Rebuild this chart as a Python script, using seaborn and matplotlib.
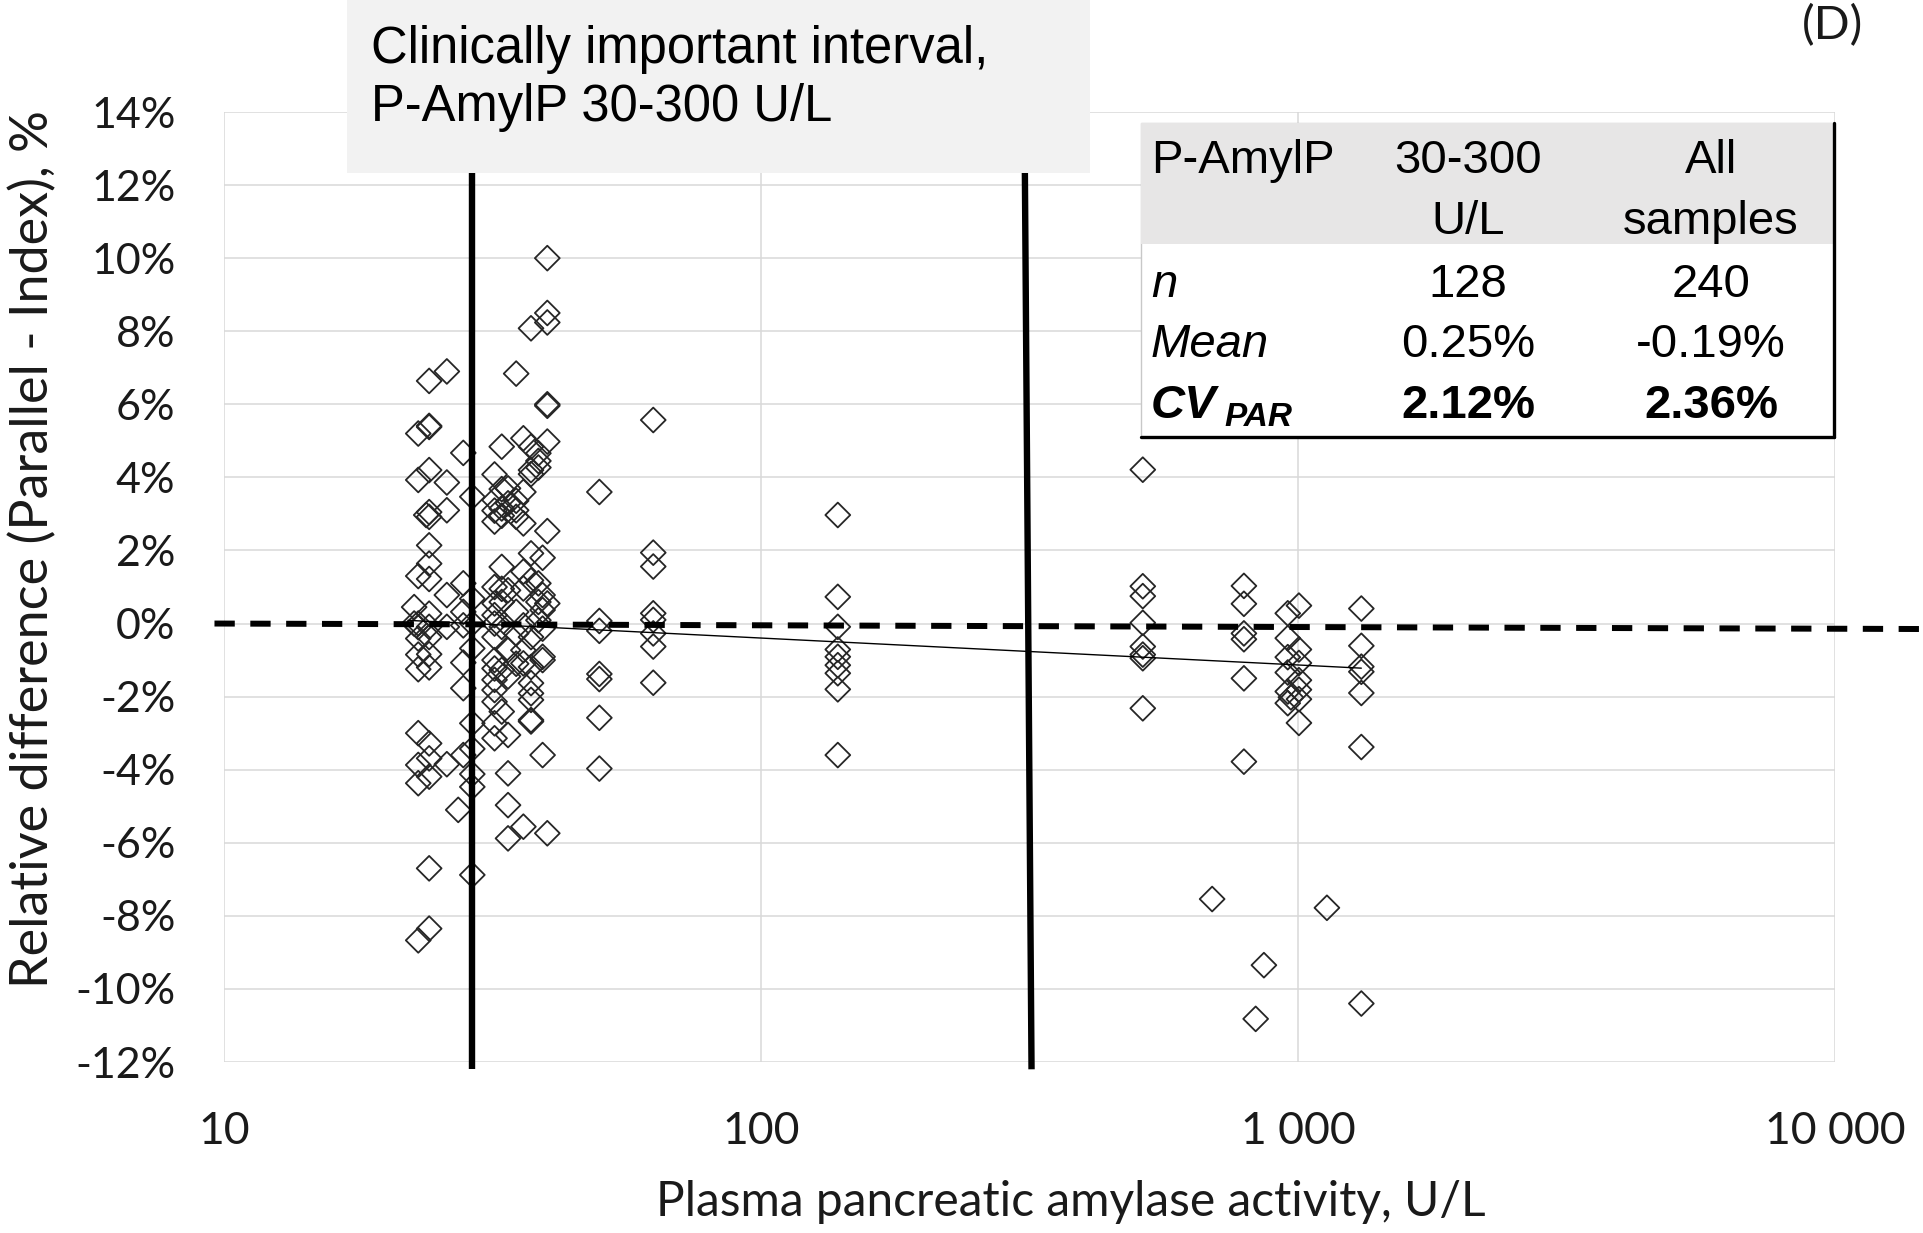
import numpy as np
import pandas as pd
import matplotlib
matplotlib.use("Agg")
import matplotlib.pyplot as plt
from matplotlib.patches import Rectangle
from matplotlib.lines import Line2D
from matplotlib.ticker import NullLocator
import seaborn as sns

# Plasma pancreatic amylase activity (U/L) of each sample
amylase_ul = [
    22.6, 22.6,
    23.0, 23.0, 23.0, 23.0, 23.0, 23.0, 23.0, 23.0, 23.0, 23.0, 23.0, 23.0,
    23.8,
    24.1, 24.1, 24.1, 24.1, 24.1, 24.1, 24.1, 24.1, 24.1, 24.1, 24.1, 24.1,
    24.1, 24.1, 24.1, 24.1, 24.1, 24.1, 24.1,
    26.0, 26.0, 26.0, 26.0, 26.0, 26.0,
    27.3,
    27.9, 27.9, 27.9, 27.9, 27.9, 27.9, 27.9,
    29.0, 29.0, 29.0, 29.0, 29.0, 29.0, 29.0, 29.0, 29.0,
    31.9, 31.9, 31.9, 31.9, 31.9, 31.9, 31.9, 31.9, 31.9, 31.9, 31.9, 31.9,
    31.9, 31.9, 31.9, 31.9,
    32.9, 32.9, 32.9, 32.9, 32.9, 32.9, 32.9, 32.9, 32.9, 32.9,
    33.8, 33.8, 33.8, 33.8, 33.8, 33.8, 33.8, 33.8, 33.8,
    35.0, 35.0, 35.0, 35.0, 35.0, 35.0, 35.0,
    36.1, 36.1, 36.1, 36.1, 36.1, 36.1, 36.1, 36.1, 36.1,
    37.3, 37.3, 37.3, 37.3, 37.3, 37.3, 37.3, 37.3, 37.3, 37.3, 37.3, 37.3, 37.3,
    38.5, 38.5, 38.5, 38.5, 38.5, 38.5,
    39.2, 39.2, 39.2, 39.2, 39.2, 39.2, 39.2,
    40.0, 40.0, 40.0, 40.0, 40.0, 40.0, 40.0, 40.0, 40.0,
    50.0, 50.0, 50.0, 50.0, 50.0, 50.0, 50.0,
    63.0, 63.0, 63.0, 63.0, 63.0, 63.0, 63.0, 63.0,
    139.0, 139.0, 139.0, 139.0, 139.0, 139.0, 139.0, 139.0, 139.0,
    514.0, 514.0, 514.0, 514.0, 514.0, 514.0, 514.0, 514.0,
    692.0,
    793.0, 793.0, 793.0, 793.0, 793.0, 793.0,
    834.0, 864.0,
    957.0, 957.0, 957.0, 957.0, 957.0, 957.0,
    970.0,
    1004.0, 1004.0, 1004.0, 1004.0, 1004.0, 1004.0, 1004.0,
    1132.0,
    1312.0, 1312.0, 1312.0, 1312.0, 1312.0, 1312.0, 1312.0,
]

# Relative difference, parallel minus index (%)
rel_diff_pct = [
    0.45, 0.0,
    5.2, 3.93, 1.3, 0.0, -0.41, -0.85, -1.25, -3.0, -3.87, -4.37, -8.67, -0.1,
    2.97,
    6.64, 5.41, 5.38, 4.2, 3.05, 2.92, 2.14, 1.64, 1.22, 0.27, -0.09, -0.37,
    -0.84, -1.2, -3.28, -3.69, -4.19, -6.7, -8.35,
    6.9, 3.86, 3.1, 0.78, -0.09, -3.85,
    -5.1,
    4.67, 1.1, 0.32, -0.05, -1.07, -1.77, -3.6,
    3.47, 0.68, 0.0, -0.68, -2.73, -3.43, -4.12, -4.47, -6.88,
    4.08, 3.38, 3.09, 2.79, 1.0, 0.55, 0.23, 0.0, -0.37, -1.0, -1.23, -1.54,
    -1.82, -2.14, -2.73, -3.14,
    4.84, 3.68, 3.15, 2.95, 1.55, 0.95, 0.59, -0.09, -1.27, -2.41,
    3.7, 3.29, 0.91, -0.73, -1.45, -3.05, -4.1, -4.97, -5.88,
    6.84, 3.36, 3.1, 2.92, 0.32, -0.27, -1.1,
    5.07, 3.6, 2.74, 1.42, 0.96, -0.05, -0.73, -1.09, -5.56,
    8.08, 4.84, 4.2, 4.09, 1.92, 1.18, -0.37, -1.19, -1.63, -1.91, -2.09, -2.64, -2.68,
    4.66, 4.45, 4.27, 1.1, 0.59, 0.09,
    1.8, 0.78, 0.37, -0.14, -0.91, -1.0, -3.6,
    10.0, 8.5, 8.24, 6.0, 5.96, 4.98, 2.53, 0.55, -5.74,
    3.6, 0.07, -0.2, -1.38, -1.52, -2.58, -3.97,
    5.57, 1.94, 1.56, 0.28, 0.1, -0.27, -0.63, -1.62,
    2.97, 0.73, -0.09, -0.71, -0.91, -1.14, -1.36, -1.8, -3.6,
    4.21, 1.02, 0.75, 0.02, -0.63, -0.85, -0.95, -2.32,
    -7.54,
    1.03, 0.54, -0.27, -0.43, -1.5, -3.78,
    -10.82, -9.35,
    0.28, -0.4, -0.92, -1.34, -1.86, -2.18,
    -2.02,
    0.49, -0.71, -1.08, -1.55, -1.81, -2.07, -2.72,
    -7.78,
    0.41, -0.61, -1.18, -1.32, -1.9, -3.38, -10.4,
]

# Axis ticks
x_ticks = [10, 100, 1000, 10000]
x_tick_labels = ["10", "100", "1 000", "10 000"]
y_ticks = [-12, -10, -8, -6, -4, -2, 0, 2, 4, 6, 8, 10, 12, 14]

# Logarithmic trend line: diff = intercept + slope * log10(amylase)
trend_intercept = 1.077
trend_slope = -0.737
trend_x_range = [22.0, 1312.0]

# Reference lines: zero difference and the clinically important interval limits
zero_line_x = [9.6, 14500.0]
zero_line_y = [0.0, -0.15]
lower_limit_x = [28.9, 28.9]
upper_limit_x = [310.0, 319.0]
limit_line_y = [12.4, -12.2]

# Summary table
table_header = [("P-AmylP", ""), ("30-300", "U/L"), ("All", "samples")]
table_n = ["128", "240"]
table_mean = ["0.25%", "-0.19%"]
table_cv = ["2.12%", "2.36%"]

sns.set_theme(style="white")
plt.rcParams["font.family"] = ["Lato", "DejaVu Sans"]

W, H = 1923, 1233
fig = plt.figure(figsize=(W / 100, H / 100), dpi=100)


def fx(px):
    return px / W


def fy(py):
    return 1 - py / H


ax = fig.add_axes([fx(224), fy(1062), (1835 - 224) / W, (1062 - 112) / H])

df = pd.DataFrame({"amylase": amylase_ul, "diff": rel_diff_pct})
sns.scatterplot(data=df, x="amylase", y="diff", marker="D", s=160,
                facecolor="none", edgecolor="#262626", linewidth=1.3,
                ax=ax, zorder=3, legend=False)

tx = np.logspace(np.log10(trend_x_range[0]), np.log10(trend_x_range[1]), 50)
ty = trend_intercept + trend_slope * np.log10(tx)
sns.lineplot(x=tx, y=ty, color="black", linewidth=1.0, ax=ax, zorder=4)

ax.plot(zero_line_x, zero_line_y, color="black", linewidth=4.3,
        dashes=(3.4, 2.6), clip_on=False, zorder=4)
for lx in (lower_limit_x, upper_limit_x):
    ax.plot(lx, limit_line_y, color="black", linewidth=4.6,
            solid_capstyle="butt", clip_on=False, zorder=4)

ax.set_xscale("log")
ax.set_xlim(10, 10000)
ax.set_ylim(-12, 14)
ax.set_xticks(x_ticks)
ax.set_xticklabels(x_tick_labels)
ax.xaxis.set_minor_locator(NullLocator())
ax.set_yticks(y_ticks)
ax.set_yticklabels([f"{t}%" for t in y_ticks])
ax.grid(True, color="#d9d9d9", linewidth=1.1)
ax.set_axisbelow(True)
for sp in ax.spines.values():
    sp.set_visible(False)
ax.tick_params(axis="y", length=0, pad=35, labelsize=31, labelcolor="#1a1a1a")
ax.tick_params(axis="x", length=0, pad=35, labelsize=32, labelcolor="#1a1a1a")

ax.set_xlabel("Plasma pancreatic amylase activity, U/L", fontsize=34.5, color="#1a1a1a")
ax.set_ylabel("Relative difference (Parallel - Index), %", fontsize=37.5, color="#1a1a1a")
ax.xaxis.set_label_coords((1071 - 224) / 1611, (1062 - 1202) / 950)
ax.xaxis.label.set_va("center")
ax.yaxis.set_label_coords((33 - 224) / 1611, (1062 - 549) / 950)
ax.yaxis.label.set_va("center")

arial = ["Liberation Sans", "DejaVu Sans"]

# Grey caption box above the interval
fig.add_artist(Rectangle((fx(347), fy(173)), (1090 - 347) / W, 173 / H,
                         transform=fig.transFigure, facecolor="#f2f2f2",
                         edgecolor="none", zorder=6))
fig.text(fx(371), fy(49), "Clinically important interval,", family=arial,
         fontsize=36.5, va="center", ha="left", color="black", zorder=7)
fig.text(fx(371), fy(107), "P-AmylP 30-300 U/L", family=arial,
         fontsize=36.5, va="center", ha="left", color="black", zorder=7)

# Summary table
fig.add_artist(Rectangle((fx(1141), fy(437)), (1834 - 1141) / W, (437 - 123) / H,
                         transform=fig.transFigure, facecolor="white",
                         edgecolor="#c8c8c8", linewidth=1.0, zorder=6))
fig.add_artist(Rectangle((fx(1141), fy(244)), (1834 - 1141) / W, (244 - 123) / H,
                         transform=fig.transFigure, facecolor="#e7e6e6",
                         edgecolor="none", zorder=6))
fig.add_artist(Line2D([fx(1141), fx(1834)], [fy(437), fy(437)], color="black",
                      linewidth=2.4, transform=fig.transFigure, zorder=7))
fig.add_artist(Line2D([fx(1834), fx(1834)], [fy(123), fy(437)], color="black",
                      linewidth=2.4, transform=fig.transFigure, zorder=7))

col_x = [1151, 1468, 1711]
row_y = [161, 222, 285, 345, 406]
tkw = dict(family=arial, fontsize=34, va="center", color="black", zorder=8)
for i, (l1, l2) in enumerate(table_header):
    ha = "left" if i == 0 else "center"
    fig.text(fx(col_x[i]), fy(row_y[0]), l1, ha=ha, **tkw)
    if l2:
        fig.text(fx(col_x[i]), fy(row_y[1]), l2, ha=ha, **tkw)
fig.text(fx(col_x[0]), fy(row_y[2]), "n", ha="left", style="italic", **tkw)
fig.text(fx(col_x[0]), fy(row_y[3]), "Mean", ha="left", style="italic", **tkw)
fig.text(fx(col_x[0]), fy(row_y[4]), "CV", ha="left", style="italic",
         weight="bold", **tkw)
fig.text(fx(1224), fy(418), "PAR", ha="left", va="center", style="italic",
         weight="bold", family=arial, fontsize=24, color="black", zorder=8)
for j in range(2):
    fig.text(fx(col_x[j + 1]), fy(row_y[2]), table_n[j], ha="center", **tkw)
    fig.text(fx(col_x[j + 1]), fy(row_y[3]), table_mean[j], ha="center", **tkw)
    fig.text(fx(col_x[j + 1]), fy(row_y[4]), table_cv[j], ha="center",
             weight="bold", **tkw)

# Panel letter
fig.text(fx(1832), fy(26), "(D)", ha="center", va="center", fontsize=34,
         color="#1a1a1a")

fig.savefig("out.png", dpi=100)
